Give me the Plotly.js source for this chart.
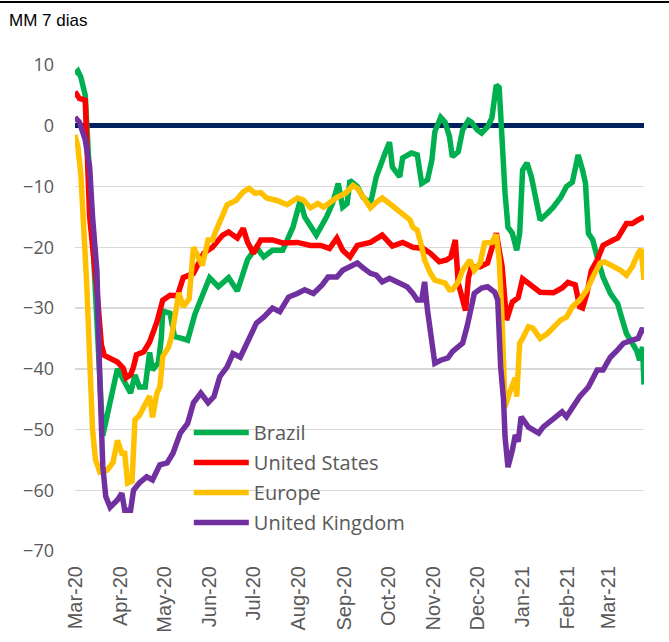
<!DOCTYPE html>
<html>
<head>
<meta charset="utf-8">
<script src="https://cdn.plot.ly/plotly-3.0.1.min.js"></script>
<style>
  html, body { margin: 0; padding: 0; background: #fff; }
  #chart { width: 669px; height: 642px; }
</style>
</head>
<body>
<div id="chart"></div>
<script>
const seriesNames = ['Brazil', 'United States', 'Europe', 'United Kingdom'];

const brazilDates = ['2020-03-01','2020-03-03','2020-03-05','2020-03-08','2020-03-10','2020-03-13','2020-03-17','2020-03-20',
    '2020-03-30','2020-04-03','2020-04-08','2020-04-11','2020-04-14','2020-04-18','2020-04-21','2020-04-23','2020-04-27',
    '2020-04-29','2020-04-30','2020-05-05','2020-05-08','2020-05-13','2020-05-17','2020-05-22','2020-05-27','2020-06-01',
    '2020-06-07','2020-06-14','2020-06-20','2020-06-27','2020-07-03','2020-07-08','2020-07-14','2020-07-21','2020-07-28',
    '2020-08-02','2020-08-05','2020-08-13','2020-08-20','2020-08-24','2020-08-28','2020-08-31','2020-09-03','2020-09-05',
    '2020-09-10','2020-09-14','2020-09-19','2020-09-23','2020-09-29','2020-10-02','2020-10-04','2020-10-09','2020-10-11',
    '2020-10-17','2020-10-21','2020-10-24','2020-10-28','2020-10-31','2020-11-02','2020-11-06','2020-11-09','2020-11-12',
    '2020-11-14','2020-11-18','2020-11-21','2020-11-25','2020-11-27','2020-12-01','2020-12-04','2020-12-08','2020-12-11',
    '2020-12-13','2020-12-14','2020-12-16','2020-12-18','2020-12-20','2020-12-22','2020-12-25','2020-12-28','2020-12-30',
    '2021-01-01','2021-01-04','2021-01-07','2021-01-11','2021-01-13','2021-01-18','2021-01-22','2021-01-27','2021-01-31',
    '2021-02-04','2021-02-06','2021-02-08','2021-02-11','2021-02-13','2021-02-15','2021-02-18','2021-02-21','2021-02-25',
    '2021-03-02','2021-03-07','2021-03-09','2021-03-13','2021-03-20','2021-03-22','2021-03-24','2021-03-25'];
const brazilValues = [8.5, 9.0, 8.0, 5.0, -4, -18, -40, -51,
    -40, -42, -44, -41, -43, -43, -37.3, -40.2, -39,
    -35, -30.5, -30.9, -34.7, -35, -35.3, -31, -28, -25,
    -26.5, -25, -27.2, -22, -20, -21.6, -20.5, -20.5, -16.7,
    -12.3, -15, -18, -15, -12.8, -9.5, -13.4, -12.8, -9,
    -10, -11.8, -12.8, -8.4, -4.5, -2.7, -6.8, -8.4, -5.3,
    -4.5, -4.8, -9.5, -8.9, -5.6, -1, 1.4, 0.6, -1.8,
    -5.1, -4.3, -0.7, 0.9, 0.6, -0.7, -1.2, -0.2, 1.3,
    4.7, 6.7, 6.3, -2.9, -11.1, -16.7, -17.7, -20.5, -17.7,
    -7.3, -6.1, -8.4, -13.9, -15.5, -14.4, -13.4, -11.8, -10,
    -9.3, -7.3, -4.8, -7.3, -9.5, -17.7, -18.8, -21.6, -24.9,
    -27.6, -29.3, -31, -34.2, -37, -38.6, -36.4, -42.6];

const usDates = ['2020-03-01','2020-03-04','2020-03-08','2020-03-09','2020-03-11','2020-03-16','2020-03-19','2020-03-21',
    '2020-03-25','2020-03-30','2020-04-03','2020-04-05','2020-04-08','2020-04-10','2020-04-12','2020-04-17','2020-04-21',
    '2020-04-26','2020-04-30','2020-05-05','2020-05-10','2020-05-14','2020-05-21','2020-05-28','2020-06-03','2020-06-10',
    '2020-06-14','2020-06-20','2020-06-24','2020-06-27','2020-07-01','2020-07-06','2020-07-14','2020-07-21','2020-07-31',
    '2020-08-09','2020-08-16','2020-08-22','2020-08-27','2020-08-31','2020-09-05','2020-09-10','2020-09-19','2020-09-27',
    '2020-10-04','2020-10-11','2020-10-18','2020-10-25','2020-10-30','2020-11-05','2020-11-10','2020-11-13','2020-11-16',
    '2020-11-18','2020-11-23','2020-11-25','2020-11-27','2020-12-03','2020-12-08','2020-12-11','2020-12-14','2020-12-18',
    '2020-12-21','2020-12-25','2020-12-29','2021-01-01','2021-01-07','2021-01-13','2021-01-22','2021-01-28','2021-02-01',
    '2021-02-06','2021-02-09','2021-02-11','2021-02-14','2021-02-17','2021-02-21','2021-02-25','2021-03-04','2021-03-07',
    '2021-03-13','2021-03-17','2021-03-21','2021-03-25'];
const usValues = [5.6, 4.5, 4.2, -3, -15, -27, -36, -37.8,
    -38.2, -38.9, -39.9, -41.5, -41, -39.7, -37.7, -37.2, -35.6,
    -32.3, -28.7, -27.9, -28, -25, -24.3, -21, -20, -18,
    -17.5, -18.5, -16.9, -19.2, -21, -18.8, -18.8, -19.3, -19.2,
    -19.7, -19.7, -20.2, -18.5, -20.5, -21.6, -19.7, -19.2, -18,
    -19.8, -19.2, -20, -20.2, -21, -22.4, -22.1, -21.6, -18.8,
    -25.9, -30.4, -25, -23.2, -23.2, -22.6, -20, -17.7, -23.2,
    -32, -29, -28.3, -25.2, -26.2, -27.4, -27.5, -26.7, -25.8,
    -26.2, -29.8, -30, -27.6, -23.8, -22.1, -19.7, -18.8, -18.5,
    -16.1, -16.1, -15.5, -15];

const europeDates = ['2020-03-01','2020-03-03','2020-03-05','2020-03-07','2020-03-09','2020-03-11','2020-03-13','2020-03-15',
    '2020-03-18','2020-03-23','2020-03-27','2020-03-30','2020-04-02','2020-04-04','2020-04-06','2020-04-09','2020-04-11',
    '2020-04-14','2020-04-19','2020-04-21','2020-04-23','2020-04-26','2020-04-28','2020-04-30','2020-05-04','2020-05-06',
    '2020-05-11','2020-05-14','2020-05-18','2020-05-21','2020-05-25','2020-05-27','2020-05-31','2020-06-03','2020-06-05',
    '2020-06-10','2020-06-13','2020-06-19','2020-06-24','2020-06-28','2020-07-02','2020-07-06','2020-07-10','2020-07-17',
    '2020-07-24','2020-07-31','2020-08-04','2020-08-09','2020-08-14','2020-08-18','2020-08-22','2020-08-27','2020-09-02',
    '2020-09-07','2020-09-10','2020-09-14','2020-09-19','2020-09-23','2020-09-27','2020-10-02','2020-10-07','2020-10-11',
    '2020-10-16','2020-10-18','2020-10-21','2020-10-24','2020-10-26','2020-10-30','2020-11-02','2020-11-09','2020-11-12',
    '2020-11-14','2020-11-18','2020-11-21','2020-11-26','2020-11-29','2020-12-03','2020-12-06','2020-12-11','2020-12-14',
    '2020-12-16','2020-12-18','2020-12-20','2020-12-23','2020-12-27','2020-12-28','2020-12-30','2021-01-01','2021-01-05',
    '2021-01-08','2021-01-13','2021-01-18','2021-01-22','2021-01-27','2021-01-31','2021-02-04','2021-02-09','2021-02-14',
    '2021-02-18','2021-02-23','2021-02-26','2021-03-04','2021-03-09','2021-03-13','2021-03-17','2021-03-21','2021-03-23',
    '2021-03-25'];
const europeValues = [-1.5, -3.5, -8, -16, -26, -38, -50, -55,
    -57, -56.7, -55.4, -51.8, -53.9, -53.9, -58.8, -58.5, -48.4,
    -47.7, -45.6, -44.5, -48, -44, -43, -38, -36.4, -34.7,
    -27.5, -29.8, -28.5, -20, -22, -23, -18.8, -18.8, -17.5,
    -14.4, -13, -12.3, -10.9, -10.3, -11.1, -11, -11.9, -12.3,
    -13, -11.9, -12.2, -13.5, -12.8, -13.4, -12.6, -11.8, -11.1,
    -9.8, -10.3, -11.8, -13.5, -12.6, -11.9, -12.8, -13.8, -14.4,
    -15.5, -16.7, -17.2, -19.9, -22.1, -24.3, -25.4, -25.9, -27,
    -27, -25.7, -23.8, -22.1, -23.8, -22.6, -19.3, -19.2, -17.9,
    -22.1, -32, -46.3, -44, -41.5, -44.6, -35.8, -35, -33.1,
    -33.3, -35, -34.2, -33.3, -32, -31.5, -29.8, -28.7, -27,
    -24.9, -22.6, -22.4, -23.2, -23.8, -24.6, -23.2, -21, -20.3,
    -25.4];

const ukDates = ['2020-03-01','2020-03-04','2020-03-08','2020-03-11','2020-03-13','2020-03-16','2020-03-18','2020-03-20',
    '2020-03-22','2020-03-25','2020-03-30','2020-04-02','2020-04-04','2020-04-08','2020-04-10','2020-04-14','2020-04-19',
    '2020-04-23','2020-04-28','2020-05-03','2020-05-07','2020-05-12','2020-05-17','2020-05-21','2020-05-26','2020-05-31',
    '2020-06-04','2020-06-08','2020-06-13','2020-06-17','2020-06-22','2020-06-27','2020-07-03','2020-07-08','2020-07-14',
    '2020-07-19','2020-07-25','2020-07-31','2020-08-05','2020-08-11','2020-08-17','2020-08-21','2020-08-27','2020-08-31',
    '2020-09-05','2020-09-10','2020-09-14','2020-09-19','2020-09-23','2020-09-27','2020-10-02','2020-10-08','2020-10-14',
    '2020-10-18','2020-10-21','2020-10-24','2020-10-26','2020-10-28','2020-10-31','2020-11-02','2020-11-06','2020-11-11',
    '2020-11-14','2020-11-21','2020-11-24','2020-11-26','2020-11-29','2020-12-04','2020-12-08','2020-12-13','2020-12-15',
    '2020-12-17','2020-12-19','2020-12-20','2020-12-22','2020-12-25','2020-12-27','2020-12-29','2020-12-31','2021-01-05',
    '2021-01-12','2021-01-15','2021-01-22','2021-01-28','2021-01-31','2021-02-06','2021-02-09','2021-02-15','2021-02-21',
    '2021-02-25','2021-03-02','2021-03-07','2021-03-11','2021-03-17','2021-03-21','2021-03-24','2021-03-25'];
const ukValues = [1.4, 0.6, -2.3, -6.8, -15, -24, -42, -56,
    -61, -62.8, -61.6, -60.5, -63.3, -63.3, -60, -58.8, -57.8,
    -58.3, -55.8, -55.5, -53.9, -50.6, -49, -45.6, -44, -45.6,
    -44.6, -41.3, -39.7, -37.5, -38.1, -35.3, -32.5, -31.5, -30,
    -30.6, -28.2, -27.6, -27, -27.6, -26.2, -24.9, -24.9, -23.8,
    -23.2, -22.6, -23.4, -24.3, -24.6, -25.7, -25.1, -25.7, -26.5,
    -27.6, -28.7, -28.7, -25.7, -30.4, -35.3, -39.1, -38.6, -38.2,
    -37.2, -35.8, -33.1, -30.4, -27.6, -26.7, -26.5, -27.4, -28.7,
    -39.7, -45.2, -51.2, -56.2, -53.4, -50.9, -52, -47.9, -49.6,
    -50.6, -49.6, -48.4, -47.1, -47.9, -45.6, -44.6, -43, -40.2,
    -40.2, -38.1, -36.9, -35.8, -35.3, -35, -33.3, -34.2];

const colors = ['#00B050', '#FF0000', '#FFC000', '#7030A0'];

const xs = [brazilDates, usDates, europeDates, ukDates];
const ys = [brazilValues, usValues, europeValues, ukValues];

const traces = seriesNames.map((name, i) => ({
    x: xs[i],
    y: ys[i],
    type: 'scatter',
    mode: 'lines',
    name: name,
    legendgroup: name,
    line: {color: colors[i], width: 5.5}
}));

const layout = {
    width: 669,
    height: 642,
    margin: {l: 75, r: 25, t: 65, b: 91},
    paper_bgcolor: '#ffffff',
    plot_bgcolor: '#ffffff',
    showlegend: true,
    legend: {
        x: 0.2,
        y: 0.284,
        xanchor: 'left',
        yanchor: 'top',
        bgcolor: 'rgba(0,0,0,0)',
        font: {family: 'Open Sans, sans-serif', size: 20, color: '#595959'},
        itemwidth: 55,
        tracegroupgap: 1
    },
    xaxis: {
        type: 'date',
        range: ['2020-03-01', '2021-03-25'],
        tick0: '2020-03-01',
        dtick: 'M1',
        tickformat: '%b-%y',
        tickangle: -90,
        showgrid: false,
        zeroline: false,
        showline: false,
        ticks: '',
        ticklabelstandoff: 10,
        tickfont: {family: 'Liberation Sans, Arial, sans-serif', size: 20, color: '#595959'}
    },
    yaxis: {
        range: [-70, 10],
        dtick: 10,
        tick0: 0,
        showgrid: true,
        gridcolor: '#d9d9d9',
        gridwidth: 1.5,
        zeroline: true,
        zerolinecolor: '#002060',
        zerolinewidth: 5,
        showline: false,
        ticks: '',
        ticklabelstandoff: 20,
        tickfont: {family: 'Open Sans, sans-serif', size: 18, color: '#595959'}
    },
    shapes: [{
        type: 'line',
        xref: 'paper', yref: 'paper',
        x0: -75 / 569, x1: 594 / 569,
        y0: 549 / 486, y1: 549 / 486,
        line: {color: '#000000', width: 2}
    }],
    annotations: [{
        text: 'MM 7 dias',
        xref: 'paper', yref: 'paper',
        x: -68 / 569, y: 531 / 486,
        xanchor: 'left', yanchor: 'middle',
        showarrow: false,
        font: {family: 'Liberation Sans, Arial, sans-serif', size: 17, color: '#000000'}
    }]
};

Plotly.newPlot('chart', traces, layout, {displayModeBar: false, staticPlot: true});
</script>
</body>
</html>
